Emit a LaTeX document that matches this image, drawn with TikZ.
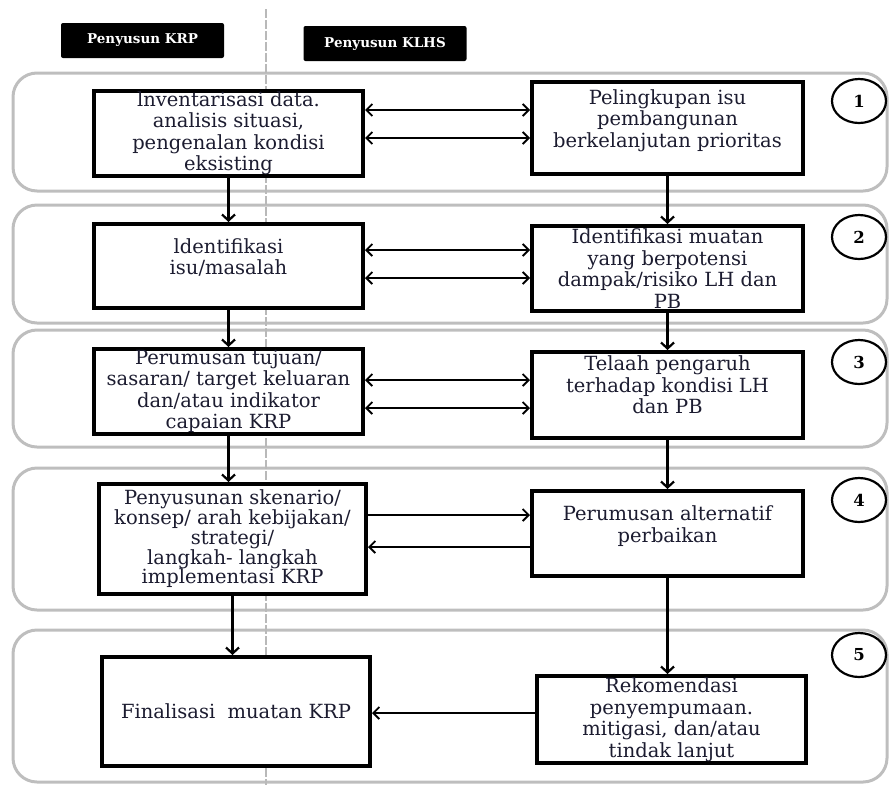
\documentclass[tikz,border=0pt]{standalone}
\usepackage{fontspec}
\setmainfont{DejaVu Serif}
\usetikzlibrary{arrows.meta,shapes.geometric}
\definecolor{teks}{RGB}{28,28,48}
\definecolor{bingkai}{RGB}{190,190,190}
\tikzset{
	kotak/.style={draw, line width=4pt, fill=white, align=center, inner sep=1pt,
		text=teks, font=\fontsize{19.5}{21.5}\selectfont},
	judul/.style={fill=black, rounded corners=2pt, text=white, minimum width=163pt,
		minimum height=35pt, font=\fontsize{13.5}{15}\selectfont\bfseries},
	nomor/.style={draw, ellipse, line width=2.2pt, minimum width=54pt, minimum height=44pt,
		inner sep=0pt, font=\fontsize{16.5}{18}\selectfont\bfseries},
	bingkaistyle/.style={draw=bingkai, line width=3pt, rounded corners=24pt},
	panah/.style={line width=1.8pt, -{Straight Barb[length=6pt,width=12pt,line width=1.8pt]}},
	panahdua/.style={line width=1.8pt, {Straight Barb[length=6pt,width=12pt,line width=1.8pt]}-{Straight Barb[length=6pt,width=12pt,line width=1.8pt]}},
	turun/.style={line width=2.4pt, -{Straight Barb[length=6pt,width=13pt,line width=2.2pt]}}
}
\begin{document}
\begin{tikzpicture}[x=1pt, y=-1pt]
	\useasboundingbox (0,0) rectangle (890,785);
	% ROUNDED FRAMES OF THE FIVE STAGES
	\foreach \ya/\yb in {73/191, 205/323, 330/447, 468/610, 630/782} {
		\draw[bingkaistyle] (13,\ya) rectangle (887,\yb);
	}
	% DIVIDER BETWEEN THE TWO COLUMNS
	\draw[gray!55, line width=2pt, dash pattern=on 9pt off 2pt] (266,9) -- (266,785);
	
	% Column headers
	\node[judul] (hkrp) at (142.5,40.5) {Penyusun KRP};
	\node[judul] (hklhs) at (385,43.5) {Penyusun KLHS};
	
	% Left column
	\node[kotak, minimum width=269pt, minimum height=85pt] (k1) at (228.5,133.5)
		{lnventarisasi data.\\analisis situasi,\\pengenalan kondisi\\eksisting};
	\node[kotak, minimum width=269pt, minimum height=84pt, text depth=19pt] (k2) at (228.5,266)
		{ldentifikasi\\isu/masalah};
	\node[kotak, minimum width=269pt, minimum height=85pt] (k3) at (228.5,391.5)
		{Perumusan tujuan/\\sasaran/ target keluaran\\dan/atau indikator\\capaian KRP};
	\node[kotak, minimum width=267pt, minimum height=110pt, font=\fontsize{19.5}{19.8}\selectfont] (k4) at (232.5,539)
		{Penyusunan skenario/\\konsep/ arah kebijakan/\\strategi/\\langkah- langkah\\implementasi KRP};
	\node[kotak, minimum width=268pt, minimum height=109pt] (k5) at (236,711.5)
		{Finalisasi\ \ muatan KRP};
	
	% Right column
	\node[kotak, minimum width=271pt, minimum height=92pt, text depth=19pt] (l1) at (667.5,128)
		{Pelingkupan isu\\pembangunan\\berkelanjutan prioritas};
	\node[kotak, minimum width=271pt, minimum height=85pt] (l2) at (667.5,268.5)
		{Identifikasi muatan\\yang berpotensi\\dampak/risiko LH dan\\PB};
	\node[kotak, minimum width=271pt, minimum height=86pt, text depth=20pt] (l3) at (667.5,395)
		{Telaah pengaruh\\terhadap kondisi LH\\dan PB};
	\node[kotak, minimum width=271pt, minimum height=85pt, text depth=19pt] (l4) at (667.5,533.5)
		{Perumusan alternatif\\perbaikan};
	\node[kotak, minimum width=269pt, minimum height=87pt] (l5) at (671.5,719.5)
		{Rekomendasi\\penyempumaan.\\mitigasi, dan/atau\\tindak lanjut};
	
	% Stage numbers
	\foreach \n/\y in {1/101, 2/237, 3/362, 4/500, 5/655} {
		\node[nomor] (c\n) at (859,\y) {\n};
	}
	
	% Flow down each column
	\draw[turun] (k1.south) -- (k2.north);
	\draw[turun] (k2.south) -- (k3.north);
	\draw[turun] (k3.south) -- (k3.south |- k4.north);
	\draw[turun] (k4.south) -- (k4.south |- k5.north);
	\draw[turun] (l1.south) -- (l2.north);
	\draw[turun] (l2.south) -- (l3.north);
	\draw[turun] (l3.south) -- (l4.north);
	\draw[turun] (l4.south) -- (l4.south |- l5.north);
	
	% Links between the columns
	\foreach \r/\d in {1/23.5, 1/-4.5, 2/16, 2/-12, 3/11.5, 3/-16.5} {
		\draw[panahdua] ([yshift=\d pt]k\r.east) -- ([yshift=\d pt]k\r.east -| l\r.west);
	}
	\draw[panah] ([yshift=24pt]k4.east) -- ([yshift=24pt]k4.east -| l4.west);
	\draw[panah] ([yshift=-8pt]k4.east -| l4.west) -- ([yshift=-8pt]k4.east);
	\draw[panah] ([yshift=6.5pt]l5.west) -- ([yshift=6.5pt]l5.west -| k5.east);
\end{tikzpicture}
\end{document}
